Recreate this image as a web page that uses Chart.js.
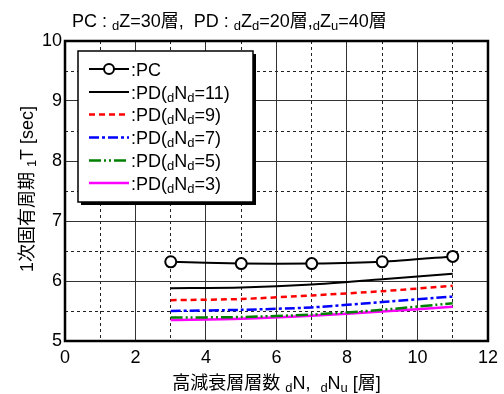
<!DOCTYPE html>
<html>
<head>
<meta charset="utf-8">
<script src="https://cdn.jsdelivr.net/npm/chart.js@4/dist/chart.umd.min.js"></script>
<style>
  html, body { margin: 0; padding: 0; background: #fff; }
  #wrap { width: 504px; height: 394px; }
</style>
</head>
<body>
<div id="wrap"><canvas id="periodChart" width="504" height="394"></canvas></div>
<script>
// Number of high-damping layers
const layerCounts = [3, 5, 7, 9, 11];

// First natural period 1T [sec]
const pcPeriod = [6.32, 6.29, 6.29, 6.32, 6.41];
const pdNd11 = [5.88, 5.89, 5.94, 6.03, 6.12];
const pdNd9 = [5.68, 5.70, 5.76, 5.83, 5.92];
const pdNd7 = [5.50, 5.52, 5.56, 5.65, 5.74];
const pdNd5 = [5.39, 5.40, 5.44, 5.52, 5.63];
const pdNd3 = [5.35, 5.37, 5.42, 5.49, 5.57];

const pdNdLabels = ['11', '9', '7', '5', '3'];

const FONT = "'Liberation Sans', 'Noto Sans CJK JP', Arial, sans-serif";
const SUB = 13;

function toPoints(values) {
    return values.map((v, i) => ({ x: layerCounts[i], y: v }));
}

// Draw a run of text pieces, some of them as subscripts
function drawRich(ctx, parts, x, y, size) {
    let cx = x;
    parts.forEach(p => {
        const sub = p[1] === 's';
        ctx.font = (sub ? SUB : size) + 'px ' + FONT;
        ctx.fillText(p[0], cx, sub ? y + 3 : y);
        cx += ctx.measureText(p[0]).width;
    });
    return cx - x;
}

function richWidth(ctx, parts, size) {
    let w = 0;
    parts.forEach(p => {
        ctx.font = (p[1] === 's' ? SUB : size) + 'px ' + FONT;
        w += ctx.measureText(p[0]).width;
    });
    return w;
}

const decorations = {
    id: 'decorations',
    afterDraw(chart) {
        const ctx = chart.ctx;
        const area = chart.chartArea;
        ctx.save();
        ctx.fillStyle = '#000';
        ctx.textBaseline = 'alphabetic';
        ctx.textAlign = 'left';

        // plot frame
        ctx.strokeStyle = '#000';
        ctx.lineWidth = 2.5;
        ctx.setLineDash([]);
        ctx.strokeRect(area.left, area.top, area.right - area.left, area.bottom - area.top);

        // heading
        drawRich(ctx, [
            ['PC : '], ['d', 's'], ['Z=30層,  PD : '], ['d', 's'], ['Z'], ['d', 's'],
            ['=20層,'], ['d', 's'], ['Z'], ['u', 's'], ['=40層']
        ], 72, 27, 18);

        // x axis title
        const xt = [['高減衰層層数 '], ['d', 's'], ['N,  '], ['d', 's'], ['N'], ['u', 's'], [' [層]']];
        const xw = richWidth(ctx, xt, 18);
        drawRich(ctx, xt, (area.left + area.right) / 2 - xw / 2, 389, 18);

        // y axis title
        const yt = [['1次固有周期 '], ['1', 's'], ['T [sec]']];
        const yw = richWidth(ctx, yt, 18);
        ctx.save();
        ctx.translate(33, 189);
        ctx.rotate(-Math.PI / 2);
        drawRich(ctx, yt, -yw / 2, 0, 18);
        ctx.restore();

        // legend box with shadow
        const bx = 78, by = 51, bw = 175, bh = 151;
        ctx.fillStyle = '#000';
        ctx.fillRect(bx + 3, by + 3, bw, bh);
        ctx.fillStyle = '#fff';
        ctx.fillRect(bx, by, bw, bh);
        ctx.strokeStyle = '#000';
        ctx.lineWidth = 1.5;
        ctx.strokeRect(bx, by, bw, bh);

        const rowY = [69, 92, 114.5, 137.5, 160.5, 183];
        chart.data.datasets.forEach((ds, i) => {
            const y = rowY[i];
            ctx.strokeStyle = ds.borderColor;
            ctx.lineWidth = ds.borderWidth;
            ctx.setLineDash(ds.borderDash || []);
            ctx.beginPath();
            ctx.moveTo(89, y);
            ctx.lineTo(129, y);
            ctx.stroke();
            ctx.setLineDash([]);
            if (i === 0) {
                ctx.beginPath();
                ctx.arc(109, y, 5, 0, Math.PI * 2);
                ctx.fillStyle = '#fff';
                ctx.fill();
                ctx.lineWidth = 2;
                ctx.strokeStyle = '#000';
                ctx.stroke();
            }
            ctx.fillStyle = '#000';
            const label = i === 0
                ? [[':'], ['PC']]
                : [[':'], ['PD('], ['d', 's'], ['N'], ['d', 's'], ['=' + pdNdLabels[i - 1] + ')']];
            drawRich(ctx, label, 131, y + 6.5, 18);
        });
        ctx.restore();
    }
};

const lineSet = (values, color, width, dash) => ({
    data: toPoints(values),
    borderColor: color,
    backgroundColor: color,
    borderWidth: width,
    borderDash: dash,
    pointRadius: 0,
    tension: 0.25,
    fill: false
});

const datasets = [
    {
        data: toPoints(pcPeriod),
        borderColor: '#000',
        borderWidth: 2,
        borderDash: [],
        pointRadius: 5.5,
        pointBorderWidth: 2,
        pointBackgroundColor: '#fff',
        pointBorderColor: '#000',
        tension: 0.2,
        fill: false
    },
    lineSet(pdNd11, '#000', 2, []),
    lineSet(pdNd9, '#ff0000', 2.5, [6, 4]),
    lineSet(pdNd7, '#0000ff', 2.5, [10, 3, 3, 3]),
    lineSet(pdNd5, '#008000', 2.5, [12, 3, 2, 3, 2, 3]),
    lineSet(pdNd3, '#ff00ff', 2.5, [])
];

new Chart(document.getElementById('periodChart'), {
    type: 'line',
    data: { datasets: datasets },
    options: {
        responsive: false,
        animation: false,
        events: [],
        layout: { padding: { left: 0, right: 14, top: 41, bottom: 27 } },
        plugins: {
            legend: { display: false },
            title: { display: false },
            tooltip: { enabled: false }
        },
        scales: {
            x: {
                type: 'linear',
                min: 0,
                max: 12,
                afterFit: scale => { scale.height = 26; },
                border: {
                    display: false,
                    dash: ctx => (ctx.tick && ctx.tick.value % 2 !== 0) ? [3, 3] : []
                },
                grid: {
                    drawTicks: false,
                    lineWidth: 1,
                    color: ctx => (ctx.tick && ctx.tick.value % 2 !== 0) ? '#222' : '#333'
                },
                ticks: {
                    stepSize: 1,
                    padding: 6,
                    maxRotation: 0,
                    autoSkip: false,
                    color: '#000',
                    font: { family: FONT, size: 18 },
                    callback: v => (v % 2 === 0 ? String(v) : '')
                }
            },
            y: {
                min: 5,
                max: 10,
                afterFit: scale => { scale.width = 65; },
                border: {
                    display: false,
                    dash: ctx => (ctx.tick && !Number.isInteger(ctx.tick.value)) ? [3, 3] : []
                },
                grid: {
                    drawTicks: false,
                    lineWidth: 1,
                    color: ctx => (ctx.tick && !Number.isInteger(ctx.tick.value)) ? '#222' : '#333'
                },
                ticks: {
                    stepSize: 0.5,
                    padding: 3,
                    autoSkip: false,
                    color: '#000',
                    font: { family: FONT, size: 18 },
                    callback: v => (Number.isInteger(v) ? String(v) : '')
                }
            }
        }
    },
    plugins: [decorations]
});
</script>
</body>
</html>
